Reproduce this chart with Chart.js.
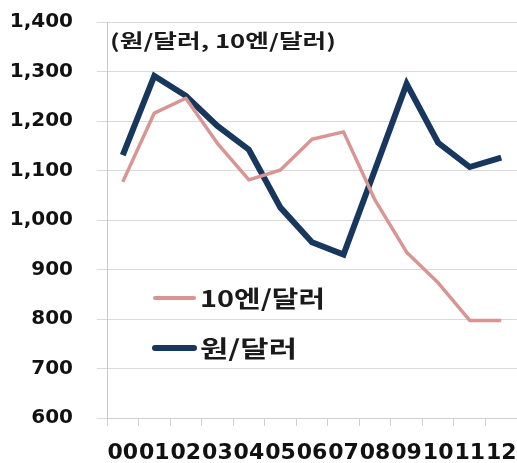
<!DOCTYPE html>
<html>
<head>
<meta charset="utf-8">
<script src="https://cdn.jsdelivr.net/npm/chart.js@4/dist/chart.umd.min.js"></script>
<style>
html,body{margin:0;padding:0;background:#fff;}
#wrap{width:517px;height:463px;position:relative;}
</style>
</head>
<body>
<div id="wrap"><canvas id="c" width="517" height="463"></canvas></div>
<script>
const years = ['00','01','02','03','04','05','06','07','08','09','10','11','12'];
const yenPerDollar = [1077, 1216, 1246, 1155, 1081, 1101, 1163, 1178, 1040, 935, 873, 797, 797];
const wonPerDollar = [1131, 1291, 1251, 1190, 1142, 1025, 955, 930, 1102, 1275, 1156, 1107, 1126];
const seriesNames = ['10엔/달러', '원/달러'];
const unitNote = '(원/달러, 10엔/달러)';
const yMin = 600, yMax = 1400, yStep = 100;

const PINK = '#D99594';
const NAVY = '#17375E';
const KFONT = '"Noto Sans CJK KR", "Noto Sans", sans-serif';

function drawStretched(ctx, text, x, y, font, targetWidth, color) {
  ctx.save();
  ctx.font = font;
  const w = ctx.measureText(text).width;
  const sx = targetWidth / w;
  ctx.translate(x, y);
  ctx.scale(sx, 1);
  ctx.textAlign = 'left';
  ctx.textBaseline = 'middle';
  ctx.fillStyle = color;
  ctx.fillText(text, 0, 0);
  ctx.restore();
}

const overlay = {
  id: 'overlay',
  afterDatasetsDraw(chart) {
    const ctx = chart.ctx;
    drawStretched(ctx, unitNote, 110, 41, 'bold 19px ' + KFONT, 226, '#1a1a1a');
    const ds = chart.data.datasets;
    const rows = [{y: 298, lw: 4, tw: 125}, {y: 348, lw: 6, tw: 97}];
    ds.forEach((d, i) => {
      const r = rows[i];
      ctx.save();
      ctx.strokeStyle = d.borderColor;
      ctx.lineWidth = r.lw;
      ctx.lineCap = 'round';
      ctx.beginPath();
      ctx.moveTo(155, r.y);
      ctx.lineTo(194, r.y);
      ctx.stroke();
      ctx.restore();
      drawStretched(ctx, d.label, 200, r.y, 'bold 23px ' + KFONT, r.tw, '#1a1a1a');
    });
  }
};

new Chart(document.getElementById('c'), {
  type: 'line',
  data: {
    labels: years,
    datasets: [
      {label: seriesNames[0], data: yenPerDollar, borderColor: PINK, borderWidth: 3.5,
       pointRadius: 0, tension: 0, borderJoinStyle: 'round', fill: false},
      {label: seriesNames[1], data: wonPerDollar, borderColor: NAVY, borderWidth: 6,
       pointRadius: 0, tension: 0, borderJoinStyle: 'miter', fill: false}
    ]
  },
  options: {
    responsive: false,
    animation: false,
    devicePixelRatio: 1,
    layout: {padding: {top: 22, left: 0, right: 0, bottom: 0}},
    plugins: {legend: {display: false}, tooltip: {enabled: false}},
    scales: {
      x: {
        offset: true,
        grid: {drawOnChartArea: false, drawTicks: true, tickLength: 8, color: '#D0D0D0', offset: true},
        border: {display: true, color: '#D0D0D0'},
        ticks: {
          autoSkip: false, maxRotation: 0, padding: 14, color: '#111',
          font: {family: 'DejaVu Sans', size: 22, weight: 'bold'}
        },
        afterFit(scale) { scale.height = 45; scale.paddingRight = 0; scale.paddingLeft = 0; }
      },
      y: {
        min: yMin, max: yMax,
        grid: {color: '#D9D9D9', tickLength: 10, drawTicks: true},
        border: {display: true, color: '#C8C8C8'},
        ticks: {
          stepSize: yStep, padding: 24, color: '#111',
          font: {family: 'DejaVu Sans', size: 20, weight: 'bold'},
          callback: v => v.toLocaleString('en-US')
        },
        afterFit(scale) { scale.width = 107; scale.paddingTop = 0; scale.paddingBottom = 0; }
      }
    }
  },
  plugins: [overlay]
});
</script>
</body>
</html>
